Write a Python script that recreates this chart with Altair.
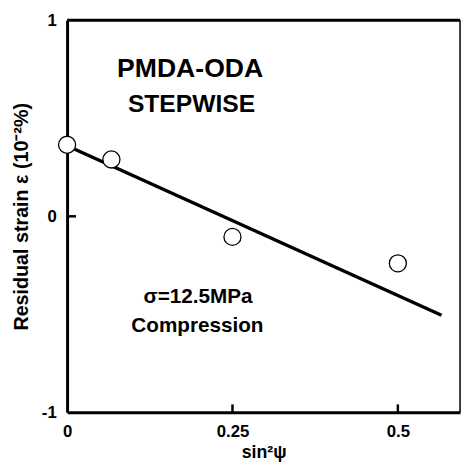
import altair as alt
import pandas as pd

# data
pt_x = [0.0, 0.067, 0.25, 0.5]
pt_y = [0.365, 0.29, -0.105, -0.24]
fit_x = [0.0, 0.566]
fit_y = [0.36, -0.505]
x_ticks = [0, 0.25, 0.5]
y_ticks = [-1, 0, 1]
ann_text = ["PMDA-ODA", "STEPWISE", "σ=12.5MPa", "Compression"]
ann_x = [0.186, 0.188, 0.198, 0.197]
ann_y = [0.75, 0.57, -0.41, -0.56]
ann_size = [27, 25, 21, 21]

W, H = 399, 398
FONT = "Liberation Sans"

pts = pd.DataFrame({"x": pt_x, "y": pt_y})
fit = pd.DataFrame({"x": fit_x, "y": fit_y})
ann = pd.DataFrame({"t": ann_text, "x": ann_x, "y": ann_y, "s": ann_size})
inner_x = pd.DataFrame({"x": [0.25, 0.5]})
inner_y = pd.DataFrame({"y": [0]})

xs = alt.Scale(domain=[0, 0.594], nice=False, zero=False)
ys = alt.Scale(domain=[-1, 1], nice=False, zero=False)

xaxis = alt.Axis(values=x_ticks, title="sin²ψ", labelExpr="datum.value",
                 labelFont=FONT, labelFontSize=17,
                 labelFontWeight="bold", titleFont=FONT, titleFontSize=18,
                 titleFontWeight="bold", labelPadding=12,
                 titleX=W / 2, titleY=41, titleBaseline="middle",
                 titleAlign="center",
                 domainColor="black", domainWidth=3, ticks=False, grid=False,
                 labelColor="black", titleColor="black", labelFlush=False)
yaxis = alt.Axis(values=y_ticks, title="Residual strain ε (10⁻²%)",
                 labelExpr="datum.value", labelFont=FONT,
                 labelFontSize=17, labelFontWeight="bold", titleFont=FONT,
                 titleFontSize=20, titleFontWeight="bold", labelPadding=11,
                 titleX=-46, titleY=H / 2, titleBaseline="middle",
                 titleAlign="center", titleAngle=270,
                 domainColor="black", domainWidth=3, ticks=False,
                 grid=False, labelColor="black", titleColor="black", labelFlush=False)

line = alt.Chart(fit).mark_line(color="black", strokeWidth=3.5).encode(
    x=alt.X("x:Q", scale=xs, axis=xaxis),
    y=alt.Y("y:Q", scale=ys, axis=yaxis),
)
circles = alt.Chart(pts).mark_point(shape="circle", size=300, filled=True,
                                    fill="white", stroke="black", strokeWidth=1.3,
                                    opacity=1).encode(
    x=alt.X("x:Q", scale=xs), y=alt.Y("y:Q", scale=ys))
texts = alt.Chart(ann).mark_text(font=FONT, fontWeight="bold",
                                 color="black").encode(
    x=alt.X("x:Q", scale=xs), y=alt.Y("y:Q", scale=ys), text="t:N",
    size=alt.Size("s:Q", scale=None, legend=None))
tick_x = alt.Chart(inner_x).mark_rule(color="black", strokeWidth=2.5).encode(
    x=alt.X("x:Q", scale=xs), y=alt.value(H), y2=alt.value(H - 8))
tick_y = alt.Chart(inner_y).mark_rule(color="black", strokeWidth=2.5).encode(
    y=alt.Y("y:Q", scale=ys), x=alt.value(0), x2=alt.value(9))
top_b = alt.Chart(inner_y).mark_rule(color="black", strokeWidth=3).encode(
    x=alt.value(0), x2=alt.value(W), y=alt.value(0))
right_b = alt.Chart(inner_y).mark_rule(color="black", strokeWidth=1.5).encode(
    x=alt.value(W), y=alt.value(0), y2=alt.value(H))

chart = alt.layer(line, tick_x, tick_y, top_b, right_b, circles, texts).properties(
    width=W, height=H,
    autosize=alt.AutoSizeParams(type="none"),
    padding={"left": 60, "top": 9, "right": 2, "bottom": 49},
).configure_view(stroke=None).configure(background="white")

chart.save("out.html", embed_options={"renderer": "svg", "actions": False})
